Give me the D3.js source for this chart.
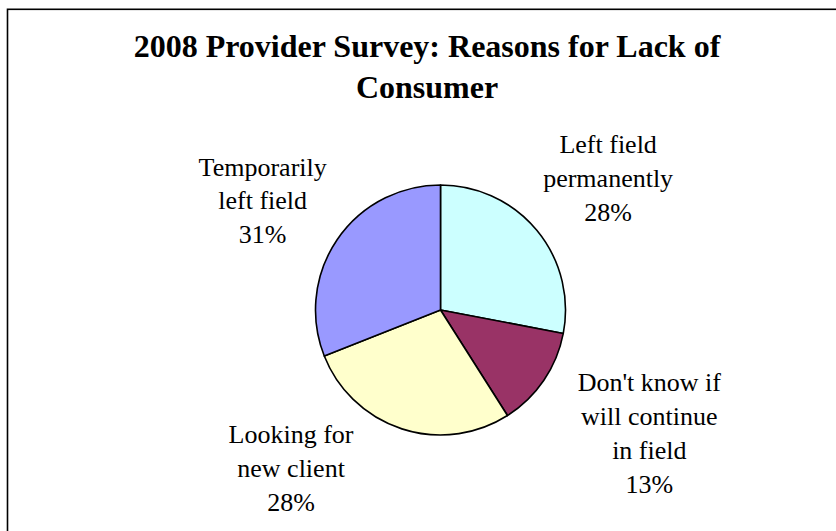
<!DOCTYPE html>
<html>
<head>
<meta charset="utf-8">
<script src="https://cdn.jsdelivr.net/npm/d3@7"></script>
<style>
  html, body { margin: 0; padding: 0; background: #fff; }
  svg { display: block; }
</style>
</head>
<body>
<svg id="chart" width="836" height="531"></svg>
<script>
// Survey categories, in drawing order (clockwise from 12 o'clock)
const categories = [
  ["Left field", "permanently"],
  ["Don't know if", "will continue", "in field"],
  ["Looking for", "new client"],
  ["Temporarily", "left field"]
];
const shares = [28, 13, 28, 31];
const sliceColors = ["#CCFFFF", "#993366", "#FFFFCC", "#9999FF"];
const titleLines = ["2008 Provider Survey: Reasons for Lack of", "Consumer"];

// Label placement: distance from pie centre plus a small per-label nudge (px)
const labelRadius = 215;
const labelNudge = [[2, 6], [31, 3], [-83, -46], [0, 12]];

const W = 836, H = 531;
const cx = 440.5, cy = 310, radius = 125;
const serif = "'Liberation Serif', 'Times New Roman', Times, serif";

const svg = d3.select("#chart");

// Chart area frame
svg.append("rect")
  .attr("x", 7.5).attr("y", 9.3)
  .attr("width", W + 50).attr("height", H + 50)
  .attr("fill", "#fff")
  .attr("stroke", "#000")
  .attr("stroke-width", 1.6);

// Title
const title = svg.append("text")
  .attr("text-anchor", "middle")
  .attr("font-family", serif)
  .attr("font-weight", "bold")
  .attr("font-size", 32)
  .attr("fill", "#000");
titleLines.forEach((t, i) => {
  title.append("tspan").attr("x", 427).attr("y", 57 + i * 41).text(t);
});

// Pie
const data = categories.map((c, i) => ({ lines: c, value: shares[i], color: sliceColors[i] }));
const pie = d3.pie().sort(null).value(d => d.value).startAngle(0).endAngle(2 * Math.PI);
const arc = d3.arc().innerRadius(0).outerRadius(radius);
const arcs = pie(data);

const g = svg.append("g").attr("transform", `translate(${cx},${cy})`);
g.selectAll("path.slice")
  .data(arcs)
  .join("path")
  .attr("class", "slice")
  .attr("d", arc)
  .attr("fill", d => d.data.color)
  .attr("stroke", "#000")
  .attr("stroke-width", 1.6)
  .attr("stroke-linejoin", "round");

// Data labels: category name lines plus percentage
const fontSize = 26, lineH = 33.8;
const labels = g.selectAll("text.lbl")
  .data(arcs)
  .join("text")
  .attr("class", "lbl")
  .attr("text-anchor", "middle")
  .attr("font-family", serif)
  .attr("font-size", fontSize)
  .attr("fill", "#000");

labels.each(function(d, i) {
  const mid = (d.startAngle + d.endAngle) / 2;
  const lx = Math.sin(mid) * labelRadius + labelNudge[i][0];
  const ly = -Math.cos(mid) * labelRadius + labelNudge[i][1];
  const lines = d.data.lines.concat([d.data.value + "%"]);
  const n = lines.length;
  const t = d3.select(this);
  lines.forEach((s, k) => {
    t.append("tspan")
      .attr("x", lx)
      .attr("y", ly + (k - (n - 1) / 2) * lineH + fontSize * 0.32)
      .text(s);
  });
});
</script>
</body>
</html>
